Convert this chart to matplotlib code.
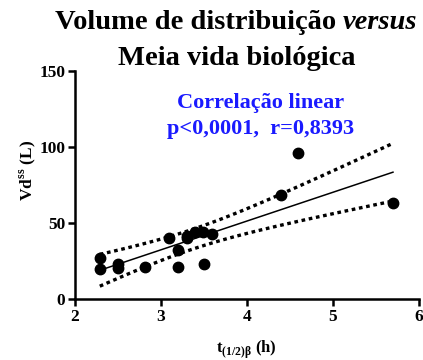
import numpy as np
import matplotlib
matplotlib.use("Agg")
import matplotlib.pyplot as plt

# Data
t_half = [2.29, 2.29, 2.50, 2.50, 2.81, 3.10, 3.20, 3.20, 3.30, 3.30, 3.40, 3.49, 3.50, 3.60, 4.40, 4.60, 5.70]
vd_ss = [26.8, 19.7, 23.0, 20.5, 21.3, 39.9, 32.2, 21.3, 41.4, 40.0, 44.3, 43.9, 23.0, 42.8, 68.4, 95.8, 63.4]
x_ticks = [2, 3, 4, 5, 6]
y_ticks = [0, 50, 100, 150]

x = np.array(t_half)
y = np.array(vd_ss)
n = len(x)
slope, intercept = np.polyfit(x, y, 1)
xf = np.linspace(x.min(), x.max(), 100)
yf = slope * xf + intercept
resid = y - (slope * x + intercept)
s = np.sqrt(np.sum(resid ** 2) / (n - 2))
sxx = np.sum((x - x.mean()) ** 2)
t_crit = 2.131  # t(0.975, df=15)
ci = t_crit * s * np.sqrt(1 / n + (xf - x.mean()) ** 2 / sxx)

serif = ["Liberation Serif", "DejaVu Serif"]
plt.rcParams["font.family"] = serif
plt.rcParams["mathtext.fontset"] = "custom"
plt.rcParams["mathtext.rm"] = "Liberation Serif"
plt.rcParams["mathtext.bf"] = "Liberation Serif:bold"

fig = plt.figure(figsize=(4.23, 3.6), dpi=100)
ax = fig.add_axes([0.177, 0.169, 0.813, 0.634])

ax.plot(xf, yf, color="black", lw=1.1)
ax.plot(xf, yf + ci, color="black", lw=2.4, linestyle=(0, (1.1, 1.1)))
ax.plot(xf, yf - ci, color="black", lw=2.4, linestyle=(0, (1.1, 1.1)))
ax.plot(x, y, "o", color="black", markersize=7.5, zorder=5)

ax.set_xlim(2, 6)
ax.set_ylim(0, 150)
ax.set_xticks(x_ticks)
ax.set_yticks(y_ticks)
for sp in ["top", "right"]:
    ax.spines[sp].set_visible(False)
for sp in ["left", "bottom"]:
    ax.spines[sp].set_linewidth(1.8)
ax.tick_params(direction="out", width=1.8, length=5, labelsize=12.5, pad=2)
for lab in ax.get_xticklabels() + ax.get_yticklabels():
    lab.set_fontweight("bold")

ax.set_xlabel(r"t$_{\mathbf{(1/2)\beta}}$ (h)", fontsize=12, fontweight="bold", labelpad=10)
fig.text(0.066, 0.527, r"Vd$^{\mathbf{ss}}$ (L)", fontsize=12.5, fontweight="bold",
         rotation=90, ha="center", va="center")

# Title, line 1: regular bold part + italic "versus", centered as a whole
fig.canvas.draw()
r = fig.canvas.get_renderer()
t1 = fig.text(0, 0.937, "Volume de distribuição ", fontsize=20.5, fontweight="bold", ha="left", va="center")
t2 = fig.text(0, 0.937, "versus", fontsize=20.5, fontweight="bold", style="italic", ha="left", va="center")
w1 = t1.get_window_extent(r).width / fig.bbox.width
w2 = t2.get_window_extent(r).width / fig.bbox.width
cx = 0.558
start = cx - (w1 + w2) / 2
t1.set_x(start)
t2.set_x(start + w1)
fig.text(0.56, 0.837, "Meia vida biológica", fontsize=20.5, fontweight="bold", ha="center", va="center")

fig.text(0.616, 0.713, "Correlação linear", fontsize=16, fontweight="bold", color="#1a1aff", ha="center", va="center")
fig.text(0.616, 0.641, "p<0,0001,  r=0,8393", fontsize=16, fontweight="bold", color="#1a1aff", ha="center", va="center")

fig.savefig("out.png", dpi=100)
